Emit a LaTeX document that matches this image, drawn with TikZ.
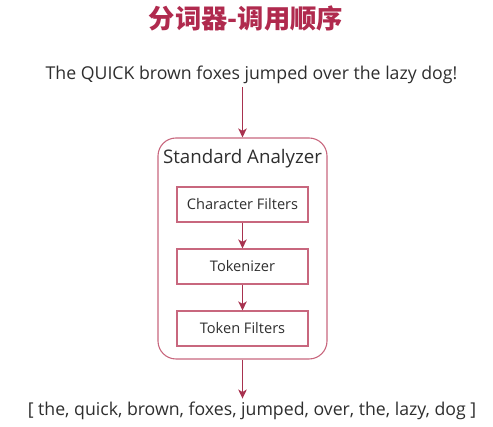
\documentclass[tikz,border=0pt]{standalone}
\usepackage{fontspec}
\setmainfont{Open Sans}
\newfontfamily\cjk{Noto Sans CJK SC}
\usepackage{xcolor}
\usetikzlibrary{arrows.meta}
\definecolor{titlered}{HTML}{B02A4E}
\definecolor{arrowred}{HTML}{A8324F}
\definecolor{boxpink}{HTML}{C8677E}
\definecolor{textgray}{HTML}{2E2E2E}
\tikzstyle{analyzer} = [rectangle, rounded corners=18pt, minimum width=169pt, minimum height=221pt, draw=boxpink, line width=1.1pt]
\tikzstyle{stage} = [rectangle, minimum width=131pt, minimum height=35pt, text centered, draw=boxpink, line width=1.1pt, text=textgray, font=\fontsize{14.6}{16}\selectfont]
\tikzstyle{plain} = [text=textgray, font=\fontsize{17.7}{20}\selectfont]
\tikzstyle{arrow} = [line width=1.9pt, draw=arrowred, -{Stealth[length=9pt, width=8.5pt, inset=2.5pt]}]

\begin{document}
\begin{tikzpicture}[x=1pt, y=1pt, node distance=62pt]
        \useasboundingbox (0,0) rectangle (493,427);
        \node (title) at (246,409) [text=titlered, font=\cjk\bfseries\fontsize{26.3}{28}\selectfont] {分词器-调用顺序};
        \node (sentence) at (251.5,352) [plain] {The QUICK brown foxes jumped over the lazy dog!};
        \node (box) at (242.5,178.5) [analyzer] {};
        \node (name) at (242.5,268) [text=textgray, font=\fontsize{18.7}{21}\selectfont] {Standard Analyzer};
        \node (charfilter) at (242.5,222.5) [stage] {Character Filters};
        \node (tokenizer) [stage, below of=charfilter] {Tokenizer};
        \node (tokenfilter) [stage, below of=tokenizer] {Token Filters};
        \node (tokens) at (252,16) [plain] {[ the, quick, brown, foxes, jumped, over, the, lazy, dog ]};
        
        \draw [arrow] (box.north |- sentence.south) -- (box.north);
        \draw [arrow] (charfilter) -- (tokenizer);
        \draw [arrow] (tokenizer) -- (tokenfilter);
        \draw [arrow] (box.south) -- (box.south |- tokens.north);
        
    \end{tikzpicture}
\end{document}
